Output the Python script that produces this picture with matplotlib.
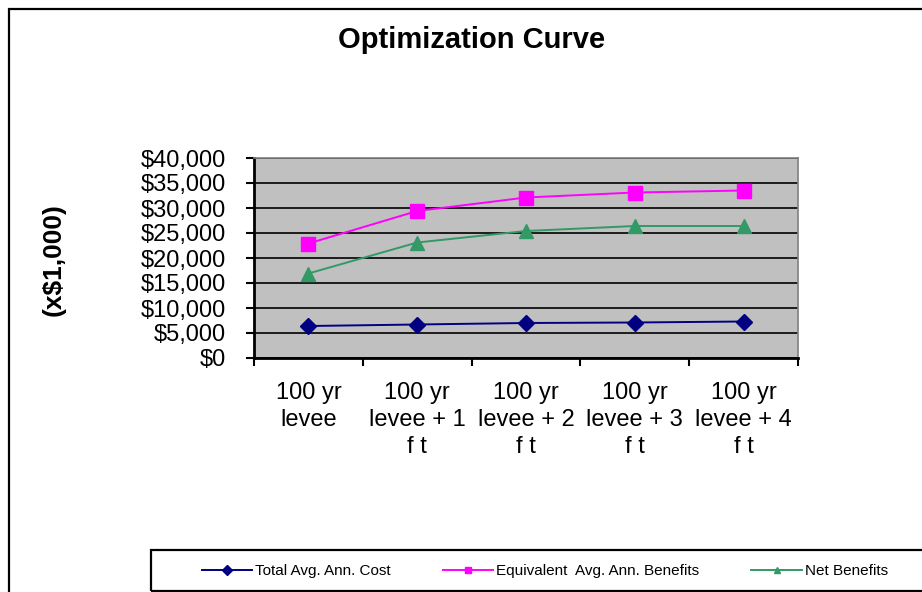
import matplotlib
matplotlib.use("Agg")
import matplotlib.pyplot as plt
from matplotlib.patches import Rectangle
from matplotlib.lines import Line2D
from matplotlib.ticker import FuncFormatter, FixedLocator

plt.rcParams['font.family'] = ['Liberation Sans', 'DejaVu Sans']

categories = ["100 yr\nlevee", "100 yr\nlevee + 1\nf t", "100 yr\nlevee + 2\nf t",
              "100 yr\nlevee + 3\nf t", "100 yr\nlevee + 4\nf t"]
total_cost = [6400, 6700, 7000, 7100, 7300]
benefits = [22900, 29400, 32100, 33100, 33500]
net_benefits = [16900, 23100, 25400, 26400, 26400]
series_names = ["Total Avg. Ann. Cost", "Equivalent  Avg. Ann. Benefits", "Net Benefits"]
colors = ['#000080', '#FF00FF', '#339966']
markers = ['D', 's', '^']
msizes = [8, 10.5, 10]

W, H = 922, 592
fig = plt.figure(figsize=(W / 100, H / 100), dpi=100)
ax = fig.add_axes([254 / W, 1 - 358 / H, (798 - 254) / W, 200 / H])
ax.set_facecolor('#C0C0C0')

x = [i + 0.5 for i in range(len(categories))]
for vals, c, m, ms, name in zip([total_cost, benefits, net_benefits], colors, markers, msizes, series_names):
    ax.plot(x, vals, color=c, marker=m, markersize=ms, lw=1.4, label=name, zorder=3)

ax.set_xlim(0, len(categories))
ax.set_ylim(0, 40000)
ax.set_yticks(range(0, 40001, 5000))
ax.yaxis.set_major_formatter(FuncFormatter(lambda v, p: "${:,.0f}".format(v)))
ax.grid(axis='y', color='black', lw=1.2)
ax.set_axisbelow(True)

ax.xaxis.set_major_locator(FixedLocator(range(len(categories) + 1)))
ax.xaxis.set_minor_locator(FixedLocator(x))
ax.set_xticklabels([""] * (len(categories) + 1))
ax.set_xticklabels(categories, minor=True)
ax.tick_params(axis='x', which='minor', length=0, pad=17, labelsize=17)
ax.tick_params(axis='x', which='major', length=6, width=1.5, direction='out')
ax.tick_params(axis='y', length=6, width=1.5, direction='out', labelsize=17, pad=14)
for lbl in ax.get_xticklabels(minor=True):
    lbl.set_linespacing(1.3)

for s in ['top', 'right']:
    ax.spines[s].set_color('#808080')
    ax.spines[s].set_linewidth(1.2)
for s in ['left', 'bottom']:
    ax.spines[s].set_color('black')
    ax.spines[s].set_linewidth(2)

fig.text(472 / W, 1 - 40 / H, "Optimization Curve", ha='center', va='center', fontsize=21, fontweight='bold')
fig.text(54 / W, 1 - 260 / H, "(x$1,000)", ha='center', va='center', rotation=90, fontsize=19, fontweight='bold')

# figure border (left and top visible)
fig.patches.append(Rectangle((8.5 / W, -0.1), 1.0, 1.1 - 8.5 / H, transform=fig.transFigure,
                             fill=False, edgecolor='black', lw=1.6))
# legend box
fig.patches.append(Rectangle((151 / W, 1 - 590.5 / H), 1.0, (590.5 - 550) / H, transform=fig.transFigure,
                             fill=False, edgecolor='black', lw=1.6))

handles = [Line2D([], [], color=c, marker=m, markersize=5, lw=1.4) for c, m in zip(colors, markers)]
fig.legend(handles, series_names, loc='center', bbox_to_anchor=(545 / W, 1 - 571 / H), ncol=3,
           frameon=False, fontsize=11, handlelength=3.3, columnspacing=3.4, handletextpad=0.2)

fig.savefig("out.png", dpi=100)
